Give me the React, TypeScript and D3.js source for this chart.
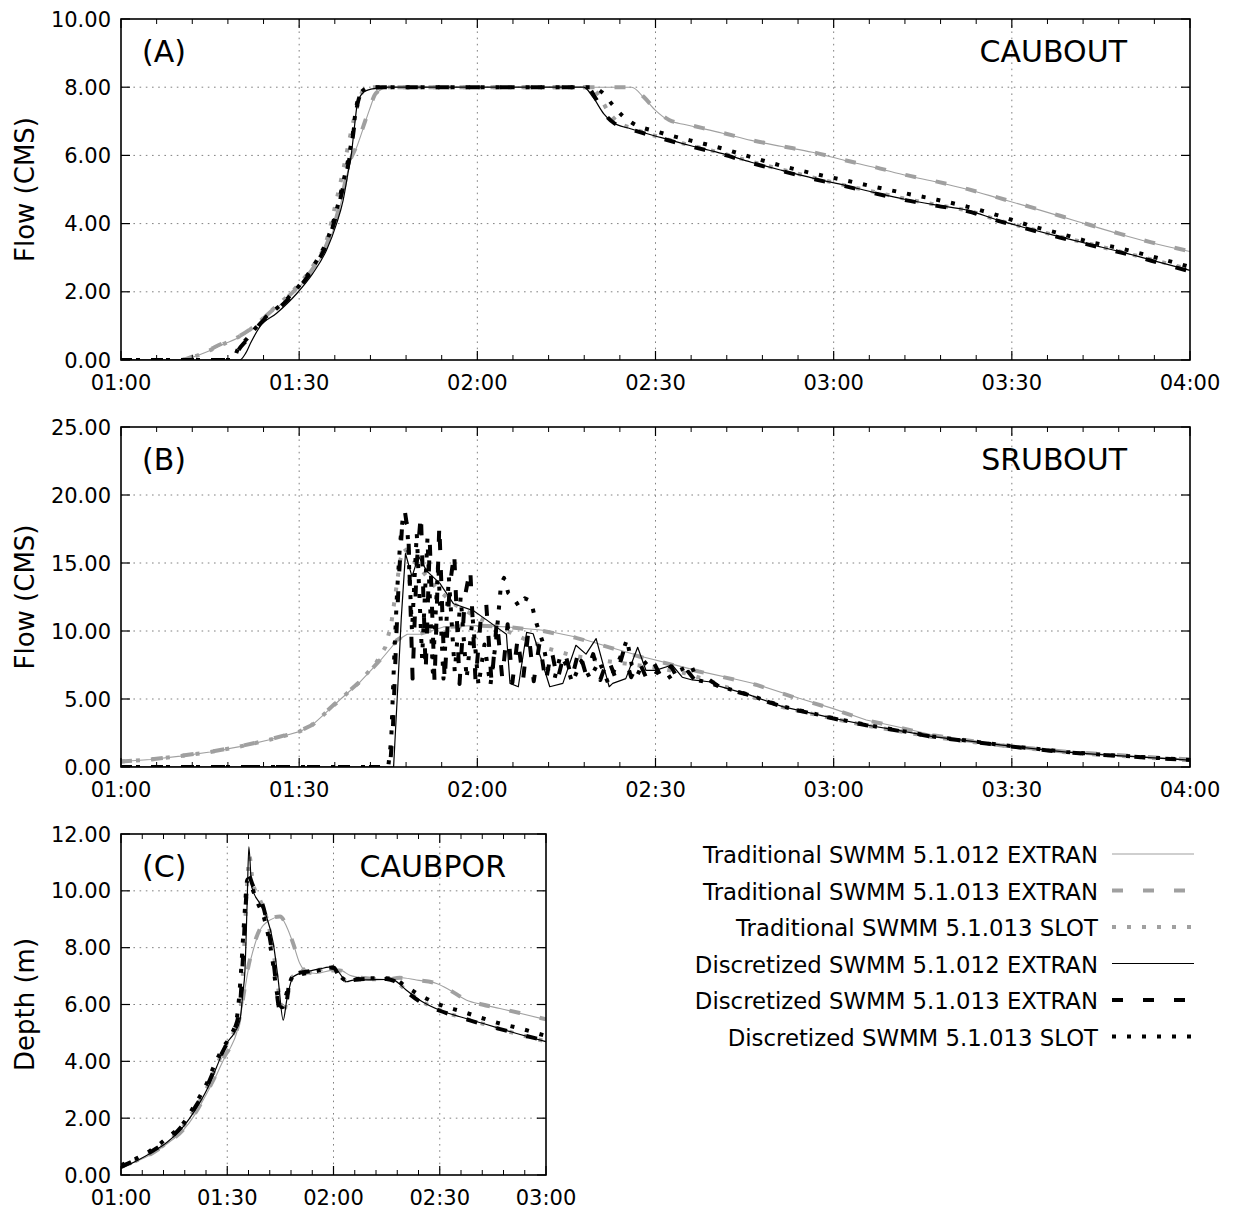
import React from 'react';
import * as d3 from 'd3';

type P = [number, number];

// ---------- tick labels / categories ----------
const X_LABELS_AB = ['01:00', '01:30', '02:00', '02:30', '03:00', '03:30', '04:00'];
const X_LABELS_C = ['01:00', '01:30', '02:00', '02:30', '03:00'];
const Y_TICKS_A = [0, 2, 4, 6, 8, 10];
const Y_TICKS_B = [0, 5, 10, 15, 20, 25];
const Y_TICKS_C = [0, 2, 4, 6, 8, 10, 12];

const SERIES_NAMES = [
  'Traditional SWMM 5.1.012 EXTRAN',
  'Traditional SWMM 5.1.013 EXTRAN',
  'Traditional SWMM 5.1.013 SLOT',
  'Discretized SWMM 5.1.012 EXTRAN',
  'Discretized SWMM 5.1.013 EXTRAN',
  'Discretized SWMM 5.1.013 SLOT',
];

// ---------- data: [minutes after 01:00, value] ----------
// (A) CAUBOUT flow
const A_T012: P[] = [[0,0],[10,0],[12,0.08],[14.5,0.24],[17,0.45],[19.5,0.63],[22.3,0.93],[25.1,1.37],[27.9,1.78],[30.1,2.15],[32.3,2.63],[34.6,3.32],[36.3,4.1],[37.4,4.88],[38.5,5.76],[39.6,6.2],[40.7,6.75],[41.8,7.32],[42.9,7.8],[44.6,7.98],[46,8],[86,8],[88,7.7],[90,7.32],[92.3,7.02],[95.1,6.9],[101.3,6.65],[106.1,6.44],[111.3,6.26],[116.4,6.09],[121.9,5.85],[127.1,5.64],[132.3,5.41],[137.4,5.22],[142.6,5.0],[147.7,4.75],[152.9,4.49],[158.1,4.22],[163.2,3.95],[168.4,3.68],[173.5,3.44],[180,3.18]];
const A_T013: P[] = [[0,0],[10,0],[12,0.1],[14.5,0.27],[17,0.48],[19.5,0.66],[22.3,0.97],[25.1,1.4],[27.9,1.82],[30.1,2.2],[32.3,2.68],[34.6,3.38],[36.3,4.2],[37.4,4.95],[38.5,5.8],[39.6,6.25],[40.7,6.8],[41.8,7.35],[42.9,7.82],[44.6,7.98],[46,8],[86,8],[88,7.72],[90,7.34],[92.3,7.04],[95.1,6.92],[101.3,6.66],[106.1,6.45],[111.3,6.27],[116.4,6.1],[121.9,5.86],[127.1,5.65],[132.3,5.42],[137.4,5.23],[142.6,5.01],[147.7,4.76],[152.9,4.5],[158.1,4.23],[163.2,3.96],[168.4,3.69],[173.5,3.45],[180,3.19]];
const A_TSLOT: P[] = [[0,0],[10,0],[12,0.08],[14.5,0.25],[17,0.45],[19.5,0.65],[22.3,0.97],[25.1,1.42],[27.9,1.85],[30.1,2.25],[32.3,2.75],[34.6,3.5],[36.3,4.7],[37.4,5.56],[38.5,6.5],[39.6,7.32],[41,7.95],[42.5,8],[79,8],[80.5,7.75],[82,7.3],[83.5,7.0],[86,6.8],[91,6.52],[95.8,6.3],[101.3,6.06],[106.1,5.82],[111.3,5.58],[116.8,5.34],[121.9,5.12],[127.1,4.92],[132.3,4.72],[137.4,4.55],[142.6,4.38],[147.7,4.1],[152.9,3.86],[158.1,3.62],[163.2,3.4],[168.4,3.17],[173.5,2.95],[180,2.65]];
const A_D012: P[] = [[0,0],[20,0],[21,0.2],[21.8,0.49],[23.4,0.98],[26.2,1.37],[29.6,1.95],[32.3,2.54],[34.6,3.22],[36.3,4.0],[37.4,4.68],[38.2,5.46],[38.8,6.05],[39.3,6.83],[39.9,7.6],[41.3,7.9],[43.5,7.98],[45,8],[77.9,8],[79.5,7.7],[81.3,7.22],[82.7,6.98],[85.8,6.78],[91,6.52],[95.8,6.29],[101.3,6.05],[106.1,5.8],[111.3,5.56],[116.8,5.32],[121.9,5.12],[127.1,4.9],[132.3,4.7],[137.4,4.54],[142.6,4.39],[147.7,4.1],[152.9,3.85],[158.1,3.61],[163.2,3.39],[168.4,3.17],[173.5,2.93],[180,2.63]];
const A_D013: P[] = [[0,0],[19,0],[19.5,0.2],[21.2,0.59],[24,1.17],[26.8,1.56],[30.1,2.15],[32.9,2.83],[34.9,3.51],[36.3,4.29],[37.4,5.07],[38.5,5.95],[39,6.5],[39.6,7.3],[40.4,7.8],[42.4,7.98],[44,8],[78.5,8],[80,7.65],[81.5,7.2],[83,6.95],[86,6.76],[91,6.5],[95.8,6.27],[101.3,6.03],[106.1,5.78],[111.3,5.54],[116.8,5.3],[121.9,5.1],[127.1,4.88],[132.3,4.68],[137.4,4.52],[142.6,4.36],[147.7,4.08],[152.9,3.83],[158.1,3.59],[163.2,3.37],[168.4,3.15],[173.5,2.91],[180,2.6]];
const A_DSLOT: P[] = [[0,0],[19,0],[19.5,0.25],[21.2,0.62],[24,1.2],[26.8,1.6],[30.1,2.2],[32.9,2.9],[34.9,3.6],[36.3,4.4],[37.4,5.2],[38.5,6.1],[39,6.6],[39.6,7.4],[40.4,7.85],[42,8],[79.3,8],[81,7.85],[82.7,7.5],[84.4,7.17],[86.1,6.95],[90.6,6.68],[95.8,6.44],[101.3,6.2],[106.1,5.95],[111.6,5.68],[116.8,5.46],[121.9,5.27],[127.1,5.07],[132.3,4.88],[137.4,4.7],[142.6,4.49],[147.7,4.24],[152.9,3.95],[158.1,3.71],[163.2,3.46],[168.4,3.27],[173.5,3.04],[180,2.73]];

// (B) SRUBOUT flow
const B_T012: P[] = [[0,0.4],[5,0.55],[10,0.8],[15,1.1],[20,1.5],[25,2.0],[28,2.35],[30,2.6],[32,3.0],[33.5,3.6],[35,4.2],[37,5.0],[40.3,6.27],[43.7,7.85],[46.5,9.3],[48.2,9.76],[50.4,9.76],[54.3,10.3],[59.9,10.4],[64.9,10.3],[71.1,10.05],[76.6,9.56],[82.2,8.83],[87.8,8.1],[93.4,7.49],[97.3,7.05],[103.5,6.45],[106.9,6.1],[114.2,5.05],[119.8,4.31],[125.5,3.46],[131.1,2.92],[136.7,2.35],[142.3,1.99],[148,1.62],[153.6,1.37],[159.2,1.13],[164.9,0.96],[170.5,0.81],[180,0.56]];
const B_T013: P[] = [[0,0.4],[5,0.56],[10,0.82],[15,1.12],[20,1.52],[25,2.02],[28,2.38],[30,2.63],[32,3.05],[33.5,3.65],[35,4.25],[37,5.05],[40.3,6.3],[43.7,7.9],[46.5,9.35],[48.2,9.8],[50.4,9.8],[54.3,10.3],[59.9,10.4],[64.9,10.3],[71.1,10.0],[76.6,9.5],[82.2,8.8],[87.8,8.05],[93.4,7.45],[97.3,7.02],[103.5,6.4],[106.9,6.05],[114.2,5.0],[119.8,4.28],[125.5,3.44],[131.1,2.9],[136.7,2.33],[142.3,1.97],[148,1.6],[153.6,1.36],[159.2,1.12],[164.9,0.95],[170.5,0.8],[180,0.55]];
const B_TSLOT: P[] = [[0,0.4],[5,0.55],[10,0.8],[15,1.1],[20,1.5],[25,2.0],[28,2.35],[30,2.6],[32,3.0],[33.5,3.6],[35,4.2],[37,5.0],[40.3,6.3],[43,7.7],[44.5,8.8],[45.5,10.5],[46.3,13],[47,15.2],[47.7,16.1],[48.5,15.6],[50,14.8],[53,13.2],[56,12],[60,11],[64,10.2],[68,9.4],[72,8.7],[76,8.2],[80,7.9],[85,7.6],[90,7.3],[95,6.9],[100,6.2],[105,5.35],[111.4,4.4],[120,3.55],[125.5,3.05],[131.1,2.63],[136.7,2.2],[142.3,1.9],[148,1.6],[153.6,1.33],[159.2,1.08],[164.9,0.9],[170.5,0.75],[180,0.5]];
const B_D012: P[] = [[0,0],[45.9,0],[46.5,5],[47.2,11],[47.9,15.7],[49,14],[50.1,15.5],[51.5,14.4],[53.7,13.5],[56,12],[59.3,11.5],[61.6,10.8],[64.9,9.76],[65.5,6.15],[66.9,5.9],[68.3,9.9],[69.4,9.8],[72.2,5.9],[74.4,6.15],[76.6,8.95],[78.3,8.3],[80,9.44],[82.2,5.9],[82.8,6.15],[85,6.5],[87,8.8],[88.4,7.1],[90,7.1],[92.8,7.5],[94.5,6.6],[96.2,6.4],[99,6.27],[100.7,5.95],[105.8,5.3],[111.4,4.44],[120,3.58],[125.5,3.09],[131.1,2.67],[136.7,2.23],[142.3,1.94],[148,1.62],[153.6,1.35],[159.2,1.1],[164.9,0.91],[170.5,0.76],[180,0.51]];
const B_D013: P[] = [[0,0],[45.3,0],[45.8,3],[46.3,9],[46.8,14],[47.3,17.5],[47.8,18.8],[48.4,17],[49.1,6.5],[49.8,15],[50.5,18.6],[51.3,7],[52,16.5],[52.8,6.2],[53.6,17.8],[54.5,6.3],[55.3,13],[56.1,15.8],[57,6.1],[57.9,12.5],[58.8,14.6],[59.7,6.3],[60.6,11],[61.5,12],[62.4,6.2],[63.3,10.8],[64.2,6.5],[65.1,10.5],[65.9,6.2],[66.8,9.5],[67.7,6.4],[68.6,10],[69.5,6.3],[70.5,9.2],[71.5,6.2],[72.5,8.6],[73.5,6.4],[74.7,8.5],[75.9,6.5],[77.1,8.6],[78.3,6.8],[79.5,8.3],[80.7,6.4],[82,8.0],[83.3,6.5],[84.6,8.5],[85.9,6.6],[87.2,7.8],[88.5,6.5],[89.8,7.6],[91.2,6.4],[92.6,7.4],[94,6.3],[95.5,7.0],[97,6.2],[98.5,6.6],[100.7,5.9],[105.8,5.28],[111.4,4.42],[120,3.56],[125.5,3.07],[131.1,2.65],[136.7,2.21],[142.3,1.92],[148,1.6],[153.6,1.33],[159.2,1.08],[164.9,0.9],[170.5,0.75],[180,0.5]];
const B_DSLOT: P[] = [[0,0],[45,0],[45.5,2],[46,8],[46.5,13],[47,16.5],[47.5,18.5],[48.2,17.8],[49,10],[49.8,17.2],[50.7,8],[51.6,16.8],[52.5,7],[53.4,15],[54.3,6.5],[55.2,14],[56.2,7],[57.2,12.5],[58.2,6.5],[59.2,11],[60.2,6],[61.2,9],[62.2,6],[63.2,9.5],[64,13.5],[64.5,13.9],[65.2,12.8],[66,12.5],[67,11.8],[68,12.4],[69,12.2],[70,10.5],[71,9.2],[72,7],[73,6.5],[74,8.2],[75,7.5],[76,6.2],[77.5,7.8],[79,6.5],[80.5,7.8],[82,6.2],[83.5,7.5],[84.5,8.5],[85.2,9.4],[86,7.5],[87,6.8],[88,7.8],[89,7.3],[90,7],[92,6.5],[94,7.1],[96,7.5],[97,6.4],[99,6.2],[100.7,5.95],[105.8,5.3],[111.4,4.45],[120,3.59],[125.5,3.1],[131.1,2.68],[136.7,2.24],[142.3,1.95],[148,1.63],[153.6,1.36],[159.2,1.11],[164.9,0.92],[170.5,0.77],[180,0.52]];

// (C) CAUBPOR depth
const C_T012: P[] = [[0,0.29],[8.2,0.7],[13,1.1],[17.6,1.58],[21,2.15],[24.2,2.87],[26.5,3.4],[28.9,4.04],[31,4.5],[32.6,4.98],[33.6,5.5],[34.5,6.15],[35.2,6.7],[35.9,7.2],[37.3,7.9],[39.2,8.6],[42,8.97],[44.9,9.09],[46.8,8.73],[48.6,8.15],[50.5,7.44],[52.4,7.15],[55.2,7.09],[59.9,7.21],[61.8,7.21],[64.6,7.03],[69.3,6.92],[74.9,6.88],[78.7,6.95],[83.4,6.86],[89.1,6.74],[92.9,6.5],[97.6,6.15],[102,6.0],[107,5.86],[112.6,5.69],[120,5.47]];
const C_T013: P[] = [[0,0.31],[8.2,0.72],[13,1.12],[17.6,1.6],[21,2.18],[24.2,2.9],[26.5,3.45],[28.9,4.1],[31,4.55],[32.6,5.05],[33.6,5.6],[34.5,6.25],[35.2,6.8],[35.9,7.3],[37.3,8.0],[39.2,8.65],[42,9.0],[44.9,9.1],[46.8,8.75],[48.6,8.15],[50.5,7.45],[52.4,7.15],[55.2,7.09],[59.9,7.2],[61.8,7.2],[64.6,7.02],[69.3,6.92],[74.9,6.88],[78.7,6.94],[83.4,6.86],[89.1,6.74],[92.9,6.5],[97.6,6.16],[102,6.0],[107,5.86],[112.6,5.7],[120,5.48]];
const C_TSLOT: P[] = [[0,0.28],[8.2,0.75],[13,1.15],[17.6,1.72],[21,2.35],[24.2,3.05],[27,3.85],[29.8,4.6],[32,5.05],[33.6,5.6],[34.6,7.5],[35.5,10],[36.3,11.2],[37.2,10.3],[39.2,9.7],[41.1,9.05],[43,7.9],[44.6,6.4],[45.9,5.7],[47,6.3],[48.6,7.0],[52.4,7.12],[56,7.22],[59.9,7.3],[61.8,7.05],[63.7,6.82],[65.6,6.86],[70,6.88],[74.9,6.9],[77,6.85],[80.6,6.5],[84.4,6.15],[90,5.8],[95.7,5.56],[102.3,5.32],[111.7,4.97],[120,4.7]];
const C_D012: P[] = [[0,0.23],[8.2,0.76],[13,1.15],[17.6,1.7],[21,2.3],[24.2,2.99],[27,3.8],[29.8,4.63],[32,5.0],[33.6,5.45],[34.4,6.4],[35,7.2],[35.6,9.5],[36.1,11.55],[36.9,10.14],[39.2,9.55],[41.1,9.09],[43,8.15],[44.4,6.86],[45.8,5.45],[46.8,6.15],[48.6,6.98],[52.4,7.15],[56,7.25],[59.9,7.33],[61.8,7.09],[63.7,6.8],[65.6,6.86],[70,6.87],[74.9,6.88],[76.9,6.86],[80.6,6.5],[84.4,6.15],[90,5.8],[95.7,5.57],[102.3,5.33],[111.7,4.98],[120,4.69]];
const C_D013: P[] = [[0,0.3],[8.2,0.8],[13,1.2],[17.6,1.78],[21,2.4],[24.2,3.1],[27,3.9],[29.8,4.6],[32,5.1],[33.6,6.0],[34.5,7.8],[35.2,9.5],[36,10.55],[37.2,10.2],[39.2,9.79],[41.1,8.97],[43,7.56],[44.9,5.8],[46.3,5.8],[47.7,6.86],[49.6,7.09],[52.4,7.15],[56,7.25],[59.9,7.3],[61.8,6.95],[63.7,6.82],[65.6,6.86],[70,6.9],[74.9,6.9],[76.9,6.84],[80.6,6.45],[84.4,6.1],[90,5.78],[95.7,5.55],[102.3,5.3],[111.7,4.98],[120,4.72]];
const C_DSLOT: P[] = [[0,0.35],[8.2,0.85],[13,1.3],[17.6,1.82],[21,2.5],[24.2,3.22],[26.5,3.9],[28.9,4.51],[31,4.9],[32.8,5.6],[33.8,7.0],[34.8,9.0],[35.7,10.4],[37,10.1],[38.5,9.6],[40.5,9.0],[42.5,7.8],[44.2,6.3],[45.5,5.9],[47,6.5],[48.6,7.0],[52.4,7.1],[56,7.2],[59.9,7.3],[61.8,7.0],[63.7,6.85],[65.6,6.88],[70,6.92],[74.9,6.92],[77,6.9],[80.6,6.62],[84.4,6.33],[89.1,6.04],[96.6,5.74],[107,5.33],[112.6,5.16],[120,4.89]];

// ---------- styles ----------
const GRAY = '#a0a0a0';
const BLACK = '#000000';
const LINE_STYLES = [
  { color: GRAY, width: 1.1, dash: '' },
  { color: GRAY, width: 4, dash: '11,20' },
  { color: GRAY, width: 4, dash: '4,11' },
  { color: BLACK, width: 1.2, dash: '' },
  { color: BLACK, width: 4, dash: '11,20' },
  { color: BLACK, width: 4, dash: '4,11' },
];
const FONT = "'DejaVu Sans', Verdana, sans-serif";

type PanelProps = {
  id: string;
  left: number; right: number; top: number; bottom: number;
  xMax: number; yMax: number; yTicks: number[]; xLabels: string[];
  series: P[][]; tag: string; station: string; stationX: number; yLabel: string;
  curve: d3.CurveFactory;
};

function Panel(p: PanelProps) {
  const x = d3.scaleLinear().domain([0, p.xMax]).range([p.left, p.right]);
  const y = d3.scaleLinear().domain([0, p.yMax]).range([p.bottom, p.top]);
  const majors = d3.range(0, p.xMax + 0.01, 30);
  const minors = d3.range(0, p.xMax + 0.01, 6).filter((m) => m % 30 !== 0);
  const line = d3.line<P>().x((d) => x(d[0])).y((d) => y(d[1])).curve(p.curve);
  const fmt = d3.format('.2f');
  const gridStyle = { stroke: '#808080', strokeWidth: 1, strokeDasharray: '1.6,4.6' };
  const midY = (p.top + p.bottom) / 2;
  return (
    <g>
      <defs>
        <clipPath id={`clip-${p.id}`}>
          <rect x={p.left} y={p.top} width={p.right - p.left} height={p.bottom - p.top} />
        </clipPath>
      </defs>
      {majors.slice(1, -1).map((m) => (
        <line key={`gx${m}`} x1={x(m)} x2={x(m)} y1={p.top} y2={p.bottom} {...gridStyle} />
      ))}
      {p.yTicks.slice(1, -1).map((v) => (
        <line key={`gy${v}`} x1={p.left} x2={p.right} y1={y(v)} y2={y(v)} {...gridStyle} />
      ))}
      <g clipPath={`url(#clip-${p.id})`}>
        {p.series.map((s, i) => (
          <path key={i} d={line(s) || ''} fill="none" stroke={LINE_STYLES[i].color}
            strokeWidth={LINE_STYLES[i].width} strokeDasharray={LINE_STYLES[i].dash || undefined}
            strokeLinejoin="round" />
        ))}
      </g>
      <rect x={p.left} y={p.top} width={p.right - p.left} height={p.bottom - p.top}
        fill="none" stroke="#000" strokeWidth={1.6} />
      {majors.map((m) => (
        <g key={`tx${m}`}>
          <line x1={x(m)} x2={x(m)} y1={p.bottom} y2={p.bottom - 9} stroke="#000" strokeWidth={1.2} />
          <line x1={x(m)} x2={x(m)} y1={p.top} y2={p.top + 9} stroke="#000" strokeWidth={1.2} />
        </g>
      ))}
      {minors.map((m) => (
        <g key={`mx${m}`}>
          <line x1={x(m)} x2={x(m)} y1={p.bottom} y2={p.bottom - 5} stroke="#000" strokeWidth={1} />
          <line x1={x(m)} x2={x(m)} y1={p.top} y2={p.top + 5} stroke="#000" strokeWidth={1} />
        </g>
      ))}
      {p.xLabels.map((lab, i) => (
        <text key={`lx${i}`} x={x(majors[i])} y={p.bottom + 30} textAnchor="middle"
          fontSize={21} fontFamily={FONT}>{lab}</text>
      ))}
      {p.yTicks.map((v) => (
        <g key={`ty${v}`}>
          <line x1={p.left} x2={p.left + 9} y1={y(v)} y2={y(v)} stroke="#000" strokeWidth={1.2} />
          <line x1={p.right} x2={p.right - 9} y1={y(v)} y2={y(v)} stroke="#000" strokeWidth={1.2} />
          <text x={p.left - 10} y={y(v) + 7.6} textAnchor="end" fontSize={21} fontFamily={FONT}>{fmt(v)}</text>
        </g>
      ))}
      <text transform={`translate(34,${midY}) rotate(-90)`} textAnchor="middle" fontSize={26}
        fontFamily={FONT}>{p.yLabel}</text>
      <text x={p.left + 21} y={p.top + 43} fontSize={30} fontFamily={FONT}>{p.tag}</text>
      <text x={p.stationX} y={p.top + 43} textAnchor="end" fontSize={30} fontFamily={FONT}>{p.station}</text>
    </g>
  );
}

export default function App() {
  const legendRows = SERIES_NAMES.map((name, i) => ({ name, i, yb: 863 + i * 36.5 }));
  return (
    <svg width={1236} height={1209} style={{ position: 'absolute', left: 0, top: 0, display: 'block', background: '#fff' }}
      fontFamily={FONT}>
      <rect x={0} y={0} width={1236} height={1209} fill="#fff" />
      <Panel id="a" left={121} right={1190} top={19} bottom={360} xMax={180} yMax={10}
        yTicks={Y_TICKS_A} xLabels={X_LABELS_AB}
        series={[A_T012, A_T013, A_TSLOT, A_D012, A_D013, A_DSLOT]}
        tag="(A)" station="CAUBOUT" stationX={1127} yLabel="Flow (CMS)" curve={d3.curveMonotoneX} />
      <Panel id="b" left={121} right={1190} top={427} bottom={767} xMax={180} yMax={25}
        yTicks={Y_TICKS_B} xLabels={X_LABELS_AB}
        series={[B_T012, B_T013, B_TSLOT, B_D012, B_D013, B_DSLOT]}
        tag="(B)" station="SRUBOUT" stationX={1127} yLabel="Flow (CMS)" curve={d3.curveLinear} />
      <Panel id="c" left={121} right={546} top={834} bottom={1175} xMax={120} yMax={12}
        yTicks={Y_TICKS_C} xLabels={X_LABELS_C}
        series={[C_T012, C_T013, C_TSLOT, C_D012, C_D013, C_DSLOT]}
        tag="(C)" station="CAUBPOR" stationX={506} yLabel="Depth (m)" curve={d3.curveMonotoneX} />
      {legendRows.map((r) => (
        <g key={r.name}>
          <text x={1098} y={r.yb} textAnchor="end" fontSize={22.8} fontFamily={FONT}>{r.name}</text>
          <line x1={1112} x2={1194} y1={r.yb - 9} y2={r.yb - 9} stroke={LINE_STYLES[r.i].color}
            strokeWidth={LINE_STYLES[r.i].width} strokeDasharray={LINE_STYLES[r.i].dash || undefined} />
        </g>
      ))}
    </svg>
  );
}
